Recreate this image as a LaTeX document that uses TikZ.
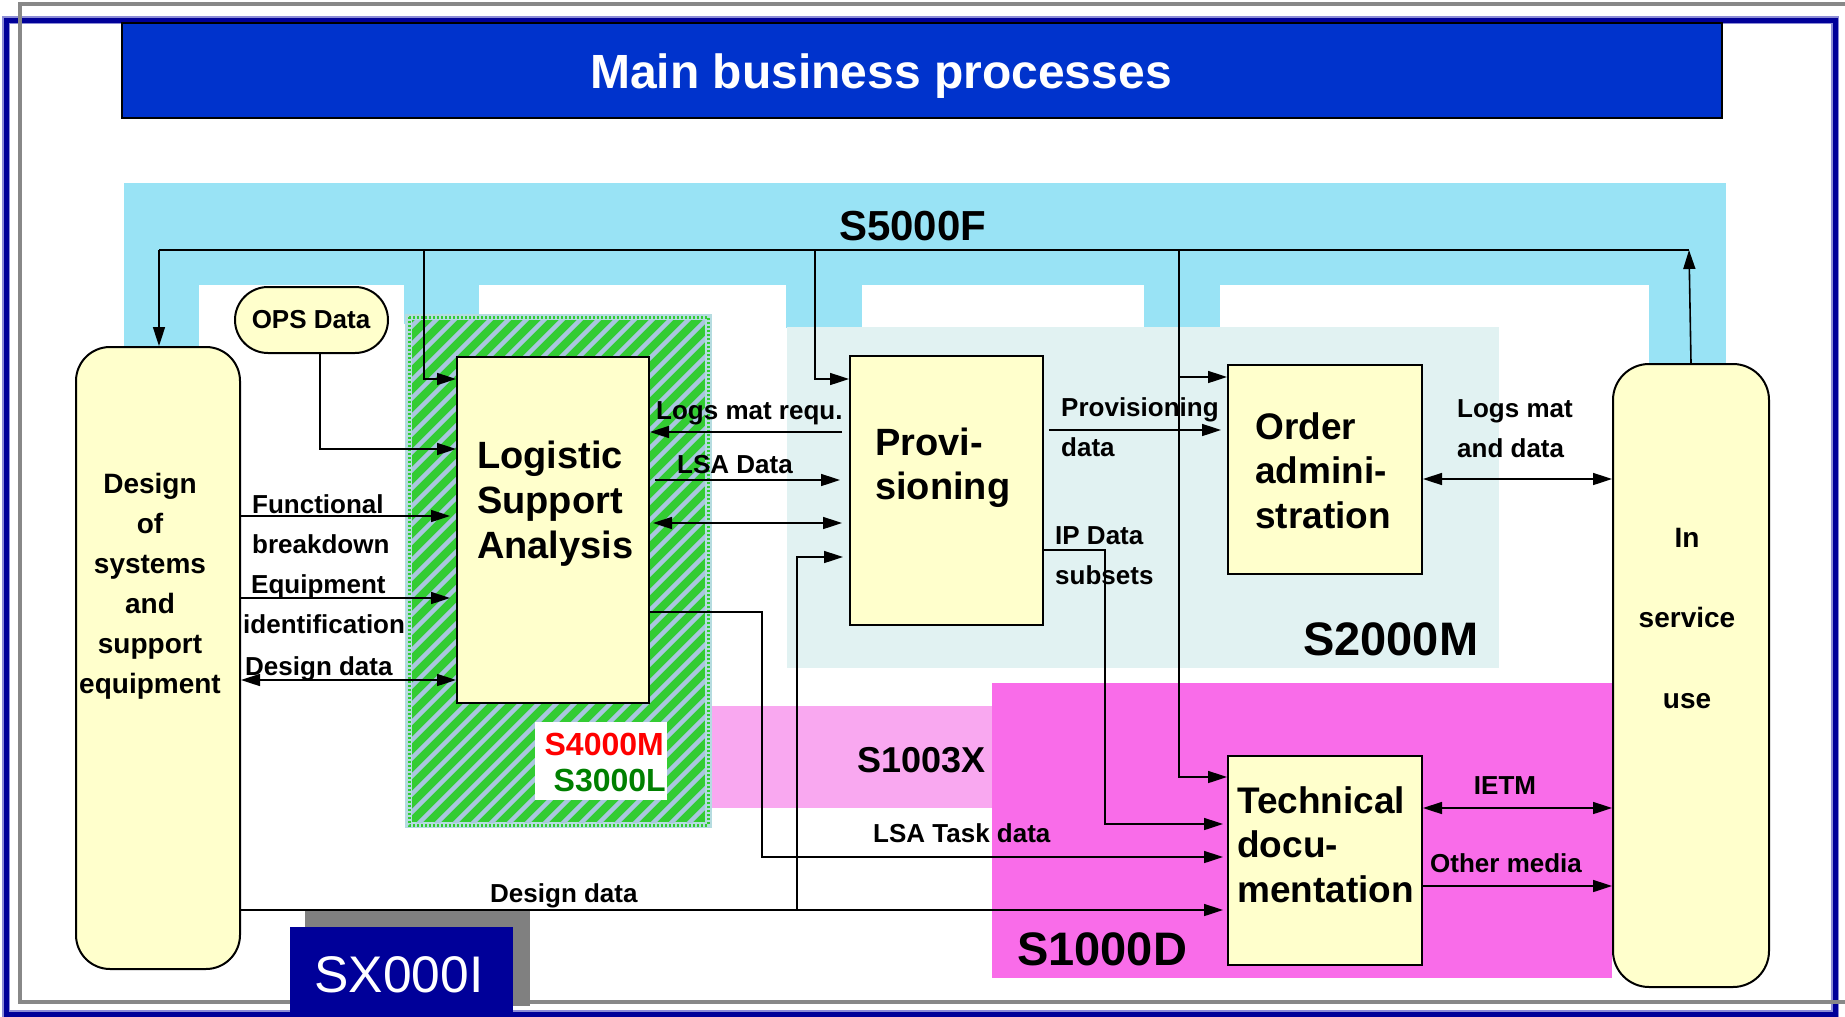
\documentclass[tikz,border=0pt]{standalone}
\usepackage{fontspec}
\setmainfont{Liberation Sans}
\usetikzlibrary{arrows.meta}

\definecolor{framegray}{HTML}{888888}
\definecolor{navy}{HTML}{000099}
\definecolor{lightnavy}{HTML}{8C8CD6}
\definecolor{titleblue}{HTML}{0033CC}
\definecolor{sfband}{HTML}{99E3F5}
\definecolor{smteal}{HTML}{E1F2F2}
\definecolor{sdpink}{HTML}{F96CE9}
\definecolor{sxpink}{HTML}{F9A8F0}
\definecolor{boxyellow}{HTML}{FFFFCC}
\definecolor{lsagreen}{HTML}{33CC33}
\definecolor{lsastripe}{HTML}{A9C6DF}
\definecolor{lsaedge}{HTML}{B5DCE0}
\definecolor{labelred}{HTML}{FF0000}
\definecolor{labelgreen}{HTML}{008000}
\definecolor{shadowgray}{HTML}{808080}

\tikzset{
  conn/.style={draw=black, line width=1.6pt},
  tip/.style={-{Triangle[length=19pt,width=12pt]}},
  twotips/.style={{Triangle[length=19pt,width=12pt]}-{Triangle[length=19pt,width=12pt]}},
  procbox/.style={draw=black, line width=2pt, fill=boxyellow, inner sep=0pt},
  roundbox/.style={procbox, rounded corners=34pt},
  boxtext/.style={inner sep=0pt, font=\fontsize{37}{44.5}\selectfont\bfseries, align=left, anchor=base west},
  lbl/.style={inner sep=0pt, font=\fontsize{26}{39.5}\selectfont\bfseries, align=left, anchor=base west},
  stdlbl/.style={inner sep=0pt, anchor=base west, font=\fontsize{47}{50}\selectfont\bfseries},
}

\begin{document}
\begin{tikzpicture}[x=1pt,y=-1pt]
\useasboundingbox (0,0) rectangle (1845,1017);
\fill[white] (0,0) rectangle (1845,1017);

% page frames
\draw[lightnavy, line width=8pt] (6,20) rectangle (1835,1014);
\draw[navy, line width=5pt] (6,20) rectangle (1835,1014);
\draw[framegray, line width=4.5pt] (20,4) rectangle (1900,1002);

% title bar
\node[draw=black, line width=2pt, fill=titleblue, minimum width=1600pt, minimum height=95pt, inner sep=0pt] (title) at (922,70.5) {};
\node[inner sep=0pt, anchor=base, text=white, font=\fontsize{48}{50}\selectfont\bfseries] (titletext) at (881,88) {Main business processes};

% S5000F band with its legs
\fill[sfband] (124,183) rectangle (1726,285);
\fill[sfband] (124,284) rectangle (199,348);
\fill[sfband] (404,284) rectangle (479,324);
\fill[sfband] (786,284) rectangle (862,328);
\fill[sfband] (1144,284) rectangle (1220,328);
\fill[sfband] (1649,284) rectangle (1726,366);

% S2000M area
\fill[smteal] (787,327) rectangle (1499,668);

% S1003X and S1000D areas
\fill[sxpink] (708,706) rectangle (992,808);
\fill[sdpink] (992,683) rectangle (1612,978);

% S4000M / S3000L hatched area
\fill[lsaedge] (405,314) rectangle (712,828);
\fill[lsagreen] (412,320) rectangle (705,822);
\begin{scope}
  \clip (412,320) rectangle (705,822);
  \foreach \i in {-540,-522,...,300}
    \draw[lsastripe, line width=4.5pt] (412+\i,830) -- ++(540,-540);
\end{scope}
\draw[lsagreen, line width=3pt, dash pattern=on 2pt off 2pt] (409,317) rectangle (708,825);
\node[fill=white, inner sep=0pt, minimum width=132pt, minimum height=78pt] (stdbox) at (601,761) {};
\node[inner sep=0pt, anchor=base east, text=labelred, font=\fontsize{32}{34}\selectfont\bfseries] (s4000m) at (664,755) {S4000M};
\node[inner sep=0pt, anchor=base east, text=labelgreen, font=\fontsize{32}{34}\selectfont\bfseries] (s3000l) at (666,791) {S3000L};

% specification names
\node[stdlbl, font=\fontsize{42}{44}\selectfont\bfseries] (s5000f) at (839,240) {S5000F};
\node[stdlbl] (s2000m) at (1303,655) {S2000M};
\node[stdlbl, font=\fontsize{36}{38}\selectfont\bfseries] (s1003x) at (857,772) {S1003X};
\node[stdlbl] (s1000d) at (1017,965) {S1000D};

% SX000I tab
\fill[shadowgray] (305,911) rectangle (530,1006);
\node[fill=navy, inner sep=0pt, minimum width=223pt, minimum height=100pt] (sxbox) at (401.5,977) {};
\node[inner sep=0pt, anchor=base, text=white, font=\fontsize{51.5}{54}\selectfont] (sxtext) at (399,992) {SX000I};

% process boxes
\node[roundbox, minimum width=164pt, minimum height=622pt] (design) at (158,658) {};
\node[procbox, rounded corners=33pt, minimum width=153pt, minimum height=66pt] (ops) at (311.5,320) {};
\node[procbox, minimum width=192pt, minimum height=346pt] (lsa) at (553,530) {};
\node[procbox, minimum width=193pt, minimum height=269pt] (prov) at (946.5,490.5) {};
\node[procbox, minimum width=194pt, minimum height=209pt] (order) at (1325,469.5) {};
\node[procbox, minimum width=194pt, minimum height=209pt] (tech) at (1325,860.5) {};
\node[roundbox, rounded corners=36pt, minimum width=156pt, minimum height=623pt] (svc) at (1691,675.5) {};

% box texts (multi-line nodes sit on the baseline of their last line)
\node[inner sep=0pt, anchor=base, align=center, font=\fontsize{28}{40}\selectfont\bfseries] (designtext) at (150,693) {Design\\of\\systems\\and\\support\\equipment};
\node[inner sep=0pt, anchor=base, font=\fontsize{26}{28}\selectfont\bfseries] (opstext) at (311,328) {OPS Data};
\node[boxtext, font=\fontsize{38}{45}\selectfont\bfseries] (lsatext) at (477,558) {Logistic\\Support\\Analysis};
\node[boxtext, font=\fontsize{38}{44}\selectfont\bfseries] (provtext) at (875,499) {Provi-\\sioning};
\node[boxtext] (ordertext) at (1255,528) {Order\\admini-\\stration};
\node[boxtext] (techtext) at (1237,902) {Technical\\docu-\\mentation};
\node[inner sep=0pt, anchor=base, align=center, font=\fontsize{28}{80.5}\selectfont\bfseries] (svctext) at (1687,708) {In\\service\\use};

% S5000F distribution line
\coordinate (busL) at (159,250);
\coordinate (busR) at (1689,250);
\coordinate (dropLSA) at (424,250);
\coordinate (dropProv) at (815,250);
\coordinate (dropOrd) at (1179,250);
\draw[conn] (busL) -- (busR);
\draw[conn, tip] (busL) -- (busL |- design.north);
\draw[conn, tip] (dropLSA) |- (lsa.west |- 0,379);
\draw[conn, tip] (dropProv) |- (prov.west |- 0,379);
\draw[conn, tip] (dropOrd) |- (order.west |- 0,377);
\draw[conn, tip] (dropOrd) |- (tech.west |- 0,777);
\draw[conn, tip] (svc.north) -- (busR);

% inputs of the logistic support analysis
\draw[conn, tip] (ops.south -| 320,0) |- (lsa.west |- 0,449);
\draw[conn, tip, shorten >=6pt] (design.east |- 0,516) -- (lsa.west |- 0,516);
\draw[conn, tip, shorten >=6pt] (design.east |- 0,598) -- (lsa.west |- 0,598);
\draw[conn, twotips] (design.east |- 0,680) -- (lsa.west |- 0,680);
\node[lbl] (lblfunc) at (252,553) {Functional\\breakdown};
\node[lbl] (lblequip) at (243,633) {\hspace*{8pt}Equipment\\identification};
\node[lbl] (lbldes1) at (245,675) {Design data};

% logistic support analysis <-> provisioning
\draw[conn, tip, shorten <=7pt] (prov.west |- 0,432) -- (lsa.east |- 0,432);
\draw[conn, tip, shorten <=5pt, shorten >=9pt] (lsa.east |- 0,480) -- (prov.west |- 0,480);
\draw[conn, twotips, shorten <=3pt, shorten >=7pt] (lsa.east |- 0,523) -- (prov.west |- 0,523);
\node[lbl] (lbllogs) at (656,419) {Logs mat requ.};
\node[lbl] (lbllsadata) at (677,473) {LSA Data};

% design data to provisioning and technical documentation
\coordinate (ddsplit) at (797,910);
\draw[conn, tip, shorten >=4pt] (design.east |- 0,910) -- (tech.west |- 0,910);
\draw[conn, tip, shorten >=6pt] (ddsplit) |- (prov.west |- 0,557);
\node[lbl] (lbldes2) at (490,902) {Design data};

% LSA task data
\coordinate (taskbend) at (762,857);
\draw[conn, tip, shorten >=4pt] (lsa.east |- 0,612) -| (taskbend) -- (tech.west |- 0,857);
\node[lbl] (lbltask) at (873,842) {LSA Task data};

% provisioning outputs
\coordinate (ipbend) at (1105,824);
\draw[conn, tip, shorten >=4pt] (prov.east |- 0,550) -| (ipbend) -- (tech.west |- 0,824);
\node[lbl] (lblip) at (1055,584) {IP Data\\subsets};
\draw[conn, tip, shorten <=5pt, shorten >=6pt] (prov.east |- 0,430) -- (order.west |- 0,430);
\node[lbl] (lblprov) at (1061,456) {Provisioning\\data};

% links to in-service use
\draw[conn, twotips] (order.east |- 0,479) -- (svc.west |- 0,479);
\node[lbl] (lblorder) at (1457,457) {Logs mat\\and data};
\draw[conn, twotips] (tech.east |- 0,808) -- (svc.west |- 0,808);
\node[lbl, anchor=base] (lblietm) at (1505,794) {IETM};
\draw[conn, tip] (tech.east |- 0,886) -- (svc.west |- 0,886);
\node[lbl] (lblother) at (1430,872) {Other media};

\end{tikzpicture}
\end{document}
